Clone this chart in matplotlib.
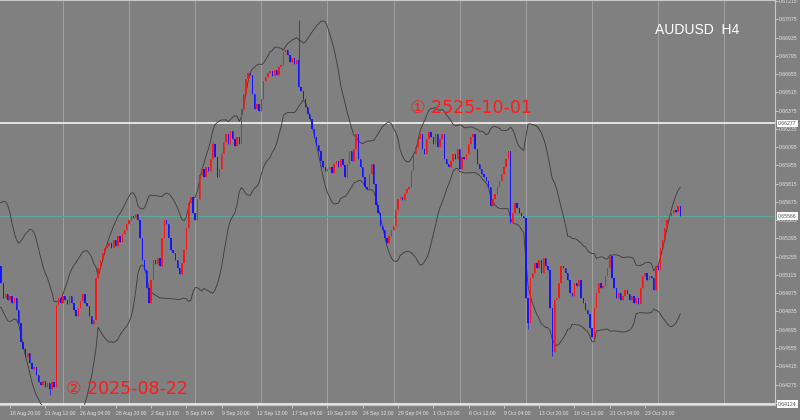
import numpy as np
import pandas as pd
import matplotlib
matplotlib.use("Agg")
import matplotlib.pyplot as plt
from matplotlib.transforms import blended_transform_factory

# AUDUSD H4 closes, bar 0 = leftmost candle
closes = [
    0.65184, 0.65054, 0.64940, 0.64970, 0.64925, 0.64955, 0.64902, 0.64940, 0.64849, 0.64750,
    0.64598, 0.64544, 0.64483, 0.64514, 0.64438, 0.64392, 0.64407, 0.64346, 0.64293, 0.64270,
    0.64301, 0.64255, 0.64286, 0.64240, 0.64293, 0.64255, 0.64887, 0.64940, 0.64902, 0.64955,
    0.64925, 0.64894, 0.64955, 0.64902, 0.64849, 0.64803, 0.64864, 0.64917, 0.64970, 0.64902,
    0.64879, 0.64803, 0.64742, 0.64773, 0.65092, 0.65168, 0.65229, 0.65282, 0.65320, 0.65336,
    0.65359, 0.65320, 0.65381, 0.65336, 0.65412, 0.65366, 0.65427, 0.65457, 0.65503, 0.65534,
    0.65564, 0.65549, 0.65579, 0.65534, 0.65397, 0.65229, 0.65153, 0.65016, 0.64902, 0.65077,
    0.65229, 0.65199, 0.65244, 0.65184, 0.65397, 0.65534, 0.65503, 0.65397, 0.65305, 0.65282,
    0.65229, 0.65168, 0.65123, 0.65206, 0.65305, 0.65473, 0.65663, 0.65716, 0.65587, 0.65534,
    0.65701, 0.65884, 0.65929, 0.65868, 0.65945, 0.65914, 0.66005, 0.66120, 0.66021, 0.65868,
    0.65929, 0.66043, 0.66135, 0.66196, 0.66120, 0.66218, 0.66158, 0.66104, 0.66173, 0.66120,
    0.66386, 0.66500, 0.66614, 0.66667, 0.66645, 0.66500, 0.66386, 0.66424, 0.66371, 0.66462,
    0.66599, 0.66629, 0.66660, 0.66675, 0.66637, 0.66690, 0.66645, 0.66706, 0.66721, 0.66827,
    0.66842, 0.66804, 0.66751, 0.66782, 0.66736, 0.66766, 0.66553, 0.66523, 0.66462, 0.66401,
    0.66348, 0.66310, 0.66234, 0.66173, 0.66112, 0.66066, 0.65990, 0.65945, 0.65914, 0.65929,
    0.65945, 0.65899, 0.65967, 0.65990, 0.65945, 0.66005, 0.65960, 0.65868, 0.65967, 0.66066,
    0.65990, 0.66081, 0.66196, 0.66005, 0.65945, 0.65868, 0.65792, 0.65777, 0.65891, 0.65967,
    0.65815, 0.65655, 0.65587, 0.65488, 0.65457, 0.65397, 0.65359, 0.65412, 0.65457, 0.65488,
    0.65610, 0.65701, 0.65716, 0.65686, 0.65747, 0.65777, 0.65792, 0.65914, 0.66043, 0.66097,
    0.66158, 0.66196, 0.66081, 0.66043, 0.66158, 0.66211, 0.66173, 0.66120, 0.66196, 0.66097,
    0.66158, 0.66196, 0.66005, 0.65967, 0.65945, 0.65990, 0.66043, 0.66005, 0.66081, 0.65929,
    0.66021, 0.66005, 0.66043, 0.66120, 0.66173, 0.66196, 0.66081, 0.65967, 0.65929, 0.65891,
    0.65868, 0.65838, 0.65792, 0.65640, 0.65701, 0.65739, 0.65792, 0.65838, 0.65891, 0.65945,
    0.66005, 0.66066, 0.65511, 0.65587, 0.65663, 0.65625, 0.65587, 0.65564, 0.65549, 0.64940,
    0.64750, 0.65092, 0.65130, 0.65206, 0.65168, 0.65229, 0.65130, 0.65244, 0.65184, 0.65153,
    0.64864, 0.64521, 0.64925, 0.64940, 0.65054, 0.65184, 0.65168, 0.65130, 0.65077, 0.64978,
    0.64955, 0.65054, 0.65031, 0.65077, 0.64940, 0.64902, 0.64849, 0.64818, 0.64712, 0.64636,
    0.64864, 0.64978, 0.65054, 0.65016, 0.65031, 0.65107, 0.65168, 0.65260, 0.65092, 0.65016,
    0.64940, 0.64978, 0.64925, 0.64955, 0.65001, 0.64970, 0.64925, 0.64955, 0.64902, 0.64940,
    0.64894, 0.65016, 0.65107, 0.65130, 0.65077, 0.65107, 0.65092, 0.65001, 0.65184, 0.65153,
    0.65320, 0.65381, 0.65473, 0.65534, 0.65564, 0.65587, 0.65610, 0.65594, 0.65640, 0.65566,
]
# closes before the window, only there to seed the bands
prior_closes = [
    0.6505, 0.6520, 0.6535, 0.6550, 0.6560, 0.6565, 0.6555, 0.6545, 0.6535, 0.6520,
    0.6510, 0.6500, 0.6495, 0.6500, 0.6512, 0.6520, 0.6530, 0.6535, 0.65245,
]
# long wicks that stand out
wick_highs = {97: 0.66140, 136: 0.67071}
wick_lows = {23: 0.64194, 240: 0.64700, 251: 0.64490}

date_labels = ["18 Aug 20:00", "21 Aug 12:00", "26 Aug 04:00", "28 Aug 20:00",
               "2 Sep 12:00", "5 Sep 04:00", "9 Sep 20:00", "12 Sep 12:00",
               "17 Sep 04:00", "19 Sep 20:00", "24 Sep 12:00", "29 Sep 04:00",
               "1 Oct 20:00", "6 Oct 12:00", "9 Oct 04:00", "13 Oct 20:00",
               "16 Oct 12:00", "21 Oct 04:00", "23 Oct 20:00"]
price_ticks = np.round(0.64135 + 0.0014 * np.arange(23), 5)
level_lines = [0.66277, 0.64124]
symbol = "AUDUSD  H4"
notes = ["\u2460 2525-10-01", "\u2461 2025-08-22"]

BG = "#808080"
LIGHT = "#e4e4e4"
FS = 3.7

closes_all = pd.Series(prior_closes + closes)
mid = closes_all.rolling(20).mean()
sd = closes_all.rolling(20).std(ddof=0)
upper = (mid + 2 * sd).values[len(prior_closes):]
lower = (mid - 2 * sd).values[len(prior_closes):]

c = np.array(closes)
o = np.array([prior_closes[-1]] + closes[:-1])
hi = np.maximum(o, c)
lo = np.minimum(o, c)
for k, v in wick_highs.items():
    hi[k] = max(hi[k], v)
for k, v in wick_lows.items():
    lo[k] = min(lo[k], v)
x = np.arange(len(c))
up = c >= o

fig = plt.figure(figsize=(8, 4.2), dpi=100, facecolor=BG)
ax = fig.add_axes([0, 15 / 420, 775 / 800, 405 / 420], facecolor=BG)

# weekly grid
for g in range(29, 360, 30):
    ax.axvline(g, color="#a4a4a4", lw=0.6, zorder=0)

ax.axhline(c[-1], color="#62a89c", lw=0.7, zorder=1)
for lvl in level_lines:
    ax.axhline(lvl, color="white", lw=1.1, zorder=1)

ax.plot(x, upper, color="#3a3a3a", lw=0.6, zorder=2)
ax.plot(x, lower, color="#3a3a3a", lw=0.6, zorder=2)

colors = np.where(up, "#ff1414", "#1414ff")
ax.vlines(x, lo, hi, colors=colors, lw=0.5, zorder=3)
body = np.maximum(np.abs(c - o), 0.00004)
ax.bar(x, body, bottom=np.minimum(o, c), width=0.62, color=colors, lw=0, zorder=3)

ax.set_xlim(0.5, 0.5 + 775 / 2.205)
ax.set_ylim(0.64118, 0.67223)

ax.yaxis.tick_right()
ax.set_yticks(price_ticks)
ax.set_yticklabels(["%.5f" % p for p in price_ticks], fontsize=FS,
                   color=LIGHT, family="Liberation Sans")
ax.tick_params(axis="y", length=2, width=0.5, color=LIGHT, pad=1)

label_bars = [5 + 16 * n for n in range(len(date_labels))]
ax.set_xticks(label_bars)
ax.set_xticklabels(date_labels, fontsize=FS, color=LIGHT,
                   family="Liberation Sans", ha="left")
ax.tick_params(axis="x", length=2.5, width=0.5, color=LIGHT, pad=1.5)

ax.spines["left"].set_visible(False)
for side in ["right", "bottom", "top"]:
    ax.spines[side].set_color("#c8c8c8")
    ax.spines[side].set_linewidth(0.8)

# price boxes on the scale
ytr = blended_transform_factory(ax.transAxes, ax.transData)
for lvl in level_lines + [c[-1]]:
    ax.text(1.004, lvl, "%.5f" % lvl, transform=ytr, fontsize=FS,
            family="Liberation Sans", color="#505050", ha="left", va="center",
            bbox=dict(boxstyle="square,pad=0.25", fc="white", ec="none"),
            clip_on=False, zorder=5)

ax.text(655 / 775, 1 - 30 / 405, symbol, transform=ax.transAxes, color="white",
        fontsize=10, family="Liberation Sans", ha="left", va="center")

ax.text(410 / 775, 1 - 108 / 405, notes[0], transform=ax.transAxes,
        color="#ff1a1a", fontsize=12.5, family=["DejaVu Sans", "Noto Sans CJK JP"],
        ha="left", va="center", zorder=6)
ax.text(66 / 775, 1 - 389 / 405, notes[1], transform=ax.transAxes,
        color="#ff1a1a", fontsize=12.5, family=["DejaVu Sans", "Noto Sans CJK JP"],
        ha="left", va="center", zorder=6)

fig.savefig("out.png", dpi=100, facecolor=BG)
